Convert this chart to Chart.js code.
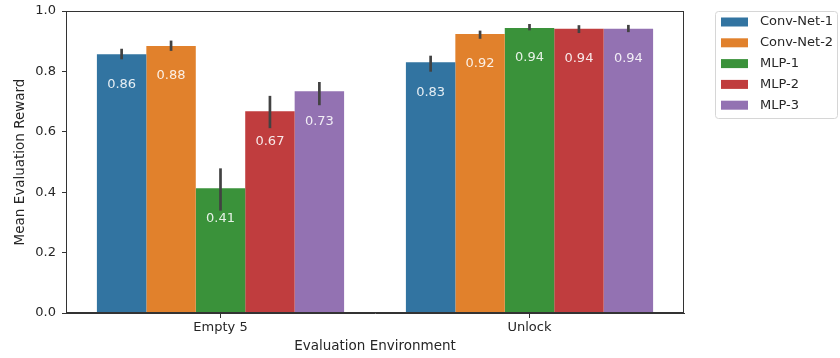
<!DOCTYPE html>
<html>
<head>
<meta charset="utf-8">
<script src="https://cdn.jsdelivr.net/npm/chart.js@4/dist/chart.umd.min.js"></script>
<style>
  html, body { margin: 0; padding: 0; background: #ffffff; }
  #wrap { width: 840px; height: 358px; }
</style>
</head>
<body>
<div id="wrap"><canvas id="chart" width="840" height="358"></canvas></div>
<script>
// Environments on the x axis
const categories = ['Empty 5', 'Unlock'];

// Model names (one bar series each)
const seriesNames = ['Conv-Net-1', 'Conv-Net-2', 'MLP-1', 'MLP-2', 'MLP-3'];

// Mean evaluation reward per model, per environment
const convNet1 = [0.857, 0.830];
const convNet2 = [0.884, 0.924];
const mlp1     = [0.413, 0.944];
const mlp2     = [0.668, 0.941];
const mlp3     = [0.734, 0.941];

// Confidence interval bounds (lower, upper) per model, per environment
const convNet1Low = [0.840, 0.799], convNet1High = [0.875, 0.852];
const convNet2Low = [0.868, 0.908], convNet2High = [0.902, 0.935];
const mlp1Low     = [0.339, 0.936], mlp1High     = [0.479, 0.957];
const mlp2Low     = [0.612, 0.927], mlp2High     = [0.719, 0.953];
const mlp3Low     = [0.688, 0.930], mlp3High     = [0.765, 0.954];

// Y axis ticks
const yTicks = [0.0, 0.2, 0.4, 0.6, 0.8, 1.0];

const palette = ['#3274a1', '#e1812c', '#3a923a', '#c03d3e', '#9372b2'];
const seriesValues = [convNet1, convNet2, mlp1, mlp2, mlp3];
const seriesLow = [convNet1Low, convNet2Low, mlp1Low, mlp2Low, mlp3Low];
const seriesHigh = [convNet1High, convNet2High, mlp1High, mlp2High, mlp3High];

const FONT = "'DejaVu Sans', 'Liberation Sans', sans-serif";
const TEXT = '#262626';
const SPINE = '#333333';

// Error bars for each bar, drawn through the value scale
const errorBars = {
  id: 'errorBars',
  afterDatasetsDraw(chart) {
    const ctx = chart.ctx;
    const y = chart.scales.y;
    ctx.save();
    ctx.strokeStyle = '#424242';
    ctx.lineWidth = 2.7;
    ctx.lineCap = 'butt';
    chart.data.datasets.forEach((ds, di) => {
      const meta = chart.getDatasetMeta(di);
      meta.data.forEach((bar, i) => {
        ctx.beginPath();
        ctx.moveTo(bar.x, y.getPixelForValue(ds.low[i]));
        ctx.lineTo(bar.x, y.getPixelForValue(ds.high[i]));
        ctx.stroke();
      });
    });
    ctx.restore();
  }
};

// Value labels inside each bar, just below its top
const valueLabels = {
  id: 'valueLabels',
  afterDatasetsDraw(chart) {
    const ctx = chart.ctx;
    ctx.save();
    ctx.font = '13px ' + FONT;
    ctx.fillStyle = 'rgba(255,255,255,0.88)';
    ctx.textAlign = 'center';
    ctx.textBaseline = 'middle';
    chart.data.datasets.forEach((ds, di) => {
      const meta = chart.getDatasetMeta(di);
      meta.data.forEach((bar, i) => {
        ctx.fillText(ds.data[i].toFixed(2), bar.x, bar.y + 30);
      });
    });
    ctx.restore();
  }
};

// Full box around the plotting area
const frame = {
  id: 'frame',
  afterDraw(chart) {
    const {left, top, right, bottom} = chart.chartArea;
    const ctx = chart.ctx;
    ctx.save();
    ctx.strokeStyle = SPINE;
    ctx.lineWidth = 1;
    ctx.strokeRect(Math.round(left) + 0.5, Math.round(top) + 0.5,
                   Math.round(right - left) - 1, Math.round(bottom - top) - 1);
    ctx.restore();
  }
};

// Legend box placed outside the axes, to the upper right
const sideLegend = {
  id: 'sideLegend',
  afterDraw(chart) {
    const ctx = chart.ctx;
    const x0 = Math.round(chart.chartArea.right) + 31;
    const y0 = Math.round(chart.chartArea.top);
    const w = 122, rowH = 20.8, h = 107;
    ctx.save();
    ctx.beginPath();
    ctx.roundRect(x0 + 0.5, y0 + 0.5, w, h, 3);
    ctx.fillStyle = '#ffffff';
    ctx.fill();
    ctx.strokeStyle = '#d6d6d6';
    ctx.lineWidth = 1;
    ctx.stroke();
    ctx.font = '13px ' + FONT;
    ctx.textBaseline = 'middle';
    ctx.textAlign = 'left';
    chart.data.datasets.forEach((ds, i) => {
      const cy = y0 + 11 + i * rowH;
      ctx.fillStyle = ds.backgroundColor;
      ctx.fillRect(x0 + 6, cy - 4.5, 27, 9);
      ctx.fillStyle = TEXT;
      ctx.fillText(ds.label, x0 + 45, cy);
    });
    ctx.restore();
  }
};

new Chart(document.getElementById('chart'), {
  type: 'bar',
  data: {
    labels: categories,
    datasets: seriesNames.map((name, i) => ({
      label: name,
      data: seriesValues[i],
      low: seriesLow[i],
      high: seriesHigh[i],
      backgroundColor: palette[i],
      borderWidth: 0,
      categoryPercentage: 0.8,
      barPercentage: 1.0
    }))
  },
  options: {
    responsive: false,
    animation: false,
    devicePixelRatio: 1,
    layout: { padding: { left: 0, top: 11, right: 156, bottom: 0 } },
    plugins: {
      legend: { display: false },
      tooltip: { enabled: false }
    },
    scales: {
      x: {
        offset: true,
        afterFit(scale) {
          scale.height = 45;
          scale.paddingLeft = 0;
          scale.paddingRight = 0;
        },
        grid: {
          offset: false,
          drawOnChartArea: false,
          drawTicks: true,
          tickLength: 5,
          tickColor: SPINE,
          tickWidth: 1
        },
        border: { display: true, color: SPINE, width: 1 },
        ticks: { color: TEXT, font: { family: FONT, size: 13 }, padding: 2, maxRotation: 0 },
        title: {
          display: true,
          text: 'Evaluation Environment',
          color: TEXT,
          font: { family: FONT, size: 13.5 },
          padding: { top: 0, bottom: 3 }
        }
      },
      y: {
        min: 0,
        max: 1,
        afterFit(scale) {
          scale.width = 66;
          scale.paddingTop = 0;
          scale.paddingBottom = 0;
        },
        afterBuildTicks(scale) { scale.ticks = yTicks.map(v => ({ value: v })); },
        grid: {
          drawOnChartArea: false,
          drawTicks: true,
          tickLength: 4,
          tickColor: SPINE,
          tickWidth: 1
        },
        border: { display: true, color: SPINE, width: 1 },
        ticks: {
          color: TEXT,
          font: { family: FONT, size: 13 },
          padding: 6,
          callback: v => Number(v).toFixed(1)
        },
        title: {
          display: true,
          text: 'Mean Evaluation Reward',
          color: TEXT,
          font: { family: FONT, size: 13.5 },
          padding: { top: 12, bottom: 0 }
        }
      }
    }
  },
  plugins: [errorBars, valueLabels, frame, sideLegend]
});
</script>
</body>
</html>
